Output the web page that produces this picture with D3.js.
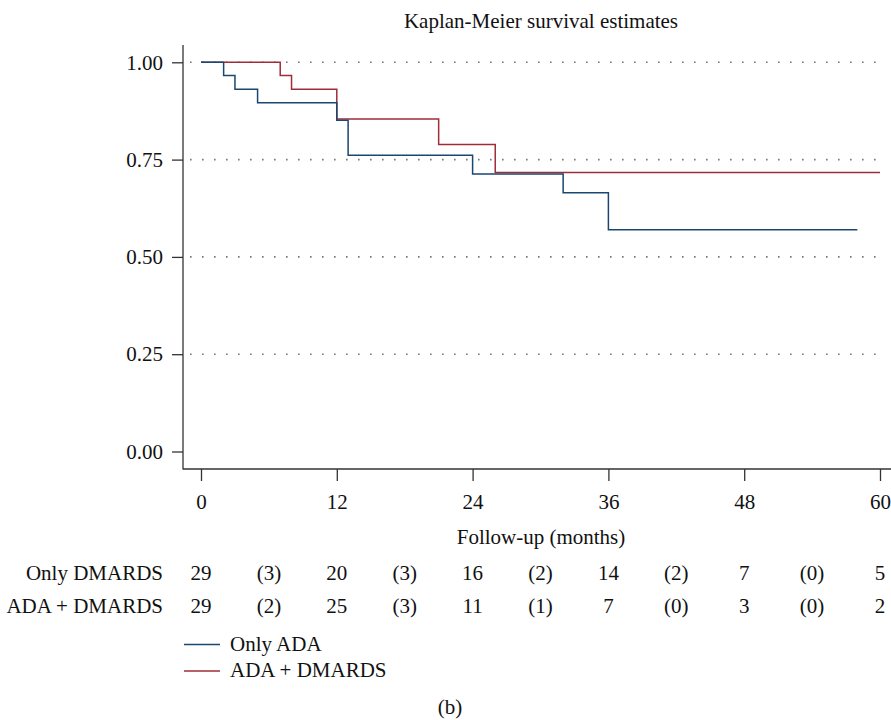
<!DOCTYPE html>
<html>
<head>
<meta charset="utf-8">
<script src="https://cdn.jsdelivr.net/npm/d3@7"></script>
<style>
  body { margin: 0; background: #fff; }
  svg text { font-family: "Liberation Serif", "DejaVu Serif", serif; fill: #111; }
</style>
</head>
<body>
<script>
'use strict';

// survival steps
let adaTimes = [0, 2, 3, 5, 12, 13, 24, 32, 36, 58],
    adaSurv  = [1, 0.966, 0.931, 0.896, 0.851, 0.761, 0.713, 0.665, 0.570, 0.570],
    comboTimes = [0, 7, 8, 12, 21, 26, 60],
    comboSurv  = [1, 0.966, 0.931, 0.854, 0.789, 0.717, 0.717];

let xTicks = [0, 12, 24, 36, 48, 60],
    yTicks = [0, 0.25, 0.5, 0.75, 1];

// number at risk table (every 6 months, bracketed = events)
let riskMonths = [0, 6, 12, 18, 24, 30, 36, 42, 48, 54, 60],
    riskOnly  = ["29", "(3)", "20", "(3)", "16", "(2)", "14", "(2)", "7", "(0)", "5"],
    riskCombo = ["29", "(2)", "25", "(3)", "11", "(1)", "7", "(0)", "3", "(0)", "2"],
    riskRows = ["Only DMARDS", "ADA + DMARDS"],
    legendNames = ["Only ADA", "ADA + DMARDS"];

let blue = "#1a476f", red = "#a02c38";
let fs = "21px";

let width = 891, height = 720,
    svg = d3.select("body").append("svg")
            .attr("width", width)
            .attr("height", height);

let x = d3.scaleLinear().domain([0, 60]).range([201, 880]),
    y = d3.scaleLinear().domain([0, 1]).range([451.5, 62.3]);

// title
svg.append("text")
    .attr("x", 541).attr("y", 28)
    .attr("text-anchor", "middle")
    .style("font-size", fs)
    .text("Kaplan-Meier survival estimates");

// dotted grid
svg.append("g")
  .selectAll("line")
  .data(yTicks.filter(d => d > 0))
  .join("line")
    .attr("x1", 190).attr("x2", 882)
    .attr("y1", d => y(d)).attr("y2", d => y(d))
    .style("stroke", "#777")
    .style("stroke-width", 1.6)
    .style("stroke-dasharray", "1.6,10.4");

// y axis
let yAxis = svg.append("g")
    .attr("transform", "translate(183,0)")
    .call(d3.axisLeft(y).tickValues(yTicks).tickFormat(d3.format(".2f")).tickSize(11).tickPadding(9));

// x axis
let xAxis = svg.append("g")
    .attr("transform", "translate(0,469)")
    .call(d3.axisBottom(x).tickValues(xTicks).tickSize(12).tickPadding(13));

[yAxis, xAxis].forEach(g => {
  g.select(".domain").remove();
  g.selectAll(".tick line").style("stroke", "#333").style("stroke-width", 1.3);
  g.selectAll(".tick text").style("font-size", fs).style("font-family", "Liberation Serif").style("fill", "#111");
});

// axis frame lines
svg.append("line").attr("x1", 183).attr("x2", 183).attr("y1", 45).attr("y2", 469.5)
    .style("stroke", "#333").style("stroke-width", 1.3);
svg.append("line").attr("x1", 183).attr("x2", 891).attr("y1", 469).attr("y2", 469)
    .style("stroke", "#333").style("stroke-width", 1.3);

svg.append("text")
    .attr("x", 541).attr("y", 544)
    .attr("text-anchor", "middle")
    .style("font-size", fs)
    .text("Follow-up (months)");

// step curves
let step = d3.line()
    .x(d => x(d[0]))
    .y(d => y(d[1]))
    .curve(d3.curveStepAfter);

svg.append("path")
    .datum(d3.zip(comboTimes, comboSurv))
    .attr("d", step)
    .style("fill", "none")
    .style("stroke", red)
    .style("stroke-width", 1.5);

svg.append("path")
    .datum(d3.zip(adaTimes, adaSurv))
    .attr("d", step)
    .style("fill", "none")
    .style("stroke", blue)
    .style("stroke-width", 1.5);

// risk table
[riskOnly, riskCombo].forEach((row, i) => {
  let yy = 580 + i * 32.5;
  svg.append("text")
      .attr("x", 163).attr("y", yy)
      .attr("text-anchor", "end")
      .style("font-size", fs)
      .text(riskRows[i]);
  svg.append("g")
    .selectAll("text")
    .data(row)
    .join("text")
      .attr("x", (d, j) => x(riskMonths[j]))
      .attr("y", yy)
      .attr("text-anchor", "middle")
      .style("font-size", fs)
      .text(d => d);
});

// legend
let legend = svg.append("g");
[blue, red].forEach((c, i) => {
  let yy = 644.5 + i * 26.5;
  legend.append("line")
      .attr("x1", 184).attr("x2", 220)
      .attr("y1", yy).attr("y2", yy)
      .style("stroke", c).style("stroke-width", 1.5);
  legend.append("text")
      .attr("x", 230).attr("y", yy + 6)
      .style("font-size", fs)
      .text(legendNames[i]);
});

svg.append("text")
    .attr("x", 450).attr("y", 714)
    .attr("text-anchor", "middle")
    .style("font-size", fs)
    .text("(b)");
</script>
</body>
</html>
